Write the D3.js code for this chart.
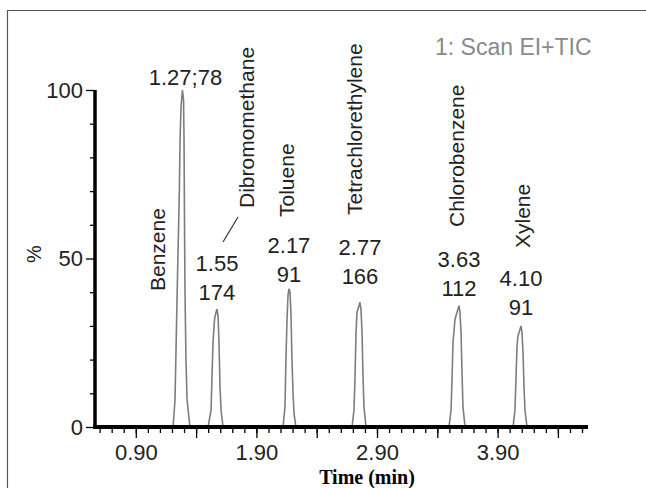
<!DOCTYPE html>
<html>
<head>
<meta charset="utf-8">
<script src="https://cdn.jsdelivr.net/npm/d3@7/dist/d3.min.js"></script>
<style>
  body { margin: 0; background: #fff; }
  svg text { font-family: "Liberation Sans", Arial, sans-serif; }
</style>
</head>
<body>
<div id="chart"></div>
<script>
// compounds, retention time labels and base ion labels
var compounds = ["Benzene", "Dibromomethane", "Toluene", "Tetrachlorethylene", "Chlorobenzene", "Xylene"];
var rtLabels = ["1.27;78", "1.55", "2.17", "2.77", "3.63", "4.10"];
var ionLabels = ["", "174", "91", "166", "112", "91"];

// TIC trace: [time (min), % of base peak]
var benzene = [[1.209,0],[1.225,8],[1.233,22],[1.246,45],[1.254,58],[1.261,70],[1.267,85],[1.275,95],[1.287,100],[1.296,97],[1.300,85],[1.304,60],[1.308,40],[1.316,20],[1.325,8],[1.349,0]];
var dibromomethane = [[1.499,0],[1.524,5],[1.532,15],[1.540,25],[1.553,32],[1.565,34],[1.573,35],[1.582,33],[1.590,25],[1.598,12],[1.607,5],[1.623,0]];
var toluene = [[2.121,0],[2.137,6],[2.145,20],[2.154,32],[2.162,39],[2.170,41],[2.179,40],[2.187,33],[2.195,20],[2.204,10],[2.212,4],[2.228,0]];
var tetrachlorethylene = [[2.693,0],[2.709,5],[2.718,15],[2.726,28],[2.734,34],[2.751,36],[2.759,37],[2.767,35],[2.776,28],[2.784,15],[2.792,6],[2.809,0]];
var chlorobenzene = [[3.497,0],[3.514,5],[3.522,14],[3.530,25],[3.547,32],[3.563,34],[3.580,36],[3.588,34],[3.597,28],[3.605,16],[3.613,6],[3.630,0]];
var xylene = [[4.028,0],[4.044,5],[4.053,15],[4.061,24],[4.069,27],[4.086,29],[4.094,30],[4.102,28],[4.111,22],[4.119,12],[4.127,5],[4.144,0]];
var peaks = [benzene, dibromomethane, toluene, tetrachlorethylene, chlorobenzene, xylene];

var xDomain = [0.5617, 4.6496];
var xLabelTicks = [0.90, 1.90, 2.90, 3.90];
var xMidTicks = [1.40, 2.40, 3.40, 4.40];
var yLabelTicks = [0, 50, 100];
var yMinorTicks = [10, 20, 30, 40, 60, 70, 80, 90];

var W = 646, H = 488;
var svg = d3.select("#chart").append("svg")
    .attr("width", W).attr("height", H);

var x = d3.scaleLinear().domain(xDomain).range([95, 588]);
var y = d3.scaleLinear().domain([0, 100]).range([427, 90]);

// frame
svg.append("path")
    .attr("d", "M7.5," + H + "V10.5H" + W)
    .attr("fill", "none").attr("stroke", "#555").attr("stroke-width", 1.2);

// trace
var trace = [[xDomain[0], 0]];
peaks.forEach(function(p) { trace = trace.concat(p); });
trace.push([xDomain[1], 0]);

var line = d3.line()
    .x(function(d) { return x(d[0]); })
    .y(function(d) { return y(d[1]); });

svg.append("path")
    .datum(trace)
    .attr("d", line)
    .attr("fill", "none")
    .attr("stroke", "#7d7d7d")
    .attr("stroke-width", 1.6)
    .attr("stroke-linejoin", "miter");

// x axis
var minorX = d3.range(0.6, 4.65, 0.1).map(function(v) { return +v.toFixed(2); });
svg.append("g").attr("transform", "translate(0,427)")
    .call(d3.axisBottom(x).tickValues(minorX).tickSize(6).tickSizeOuter(0).tickFormat(""));
svg.append("g").attr("transform", "translate(0,427)")
    .call(d3.axisBottom(x).tickValues(xMidTicks).tickSize(11).tickSizeOuter(0).tickFormat(""));
svg.append("g").attr("class", "xlab").attr("transform", "translate(0,427)")
    .call(d3.axisBottom(x).tickValues(xLabelTicks).tickSize(11).tickSizeOuter(0).tickPadding(6)
        .tickFormat(d3.format(".2f")));

// y axis
svg.append("g").attr("transform", "translate(95,0)")
    .call(d3.axisLeft(y).tickValues(yMinorTicks).tickSize(5).tickSizeOuter(0).tickFormat(""));
svg.append("g").attr("class", "ylab").attr("transform", "translate(95,0)")
    .call(d3.axisLeft(y).tickValues(yLabelTicks).tickSize(9).tickSizeOuter(0).tickPadding(3));

svg.selectAll(".domain").remove();
svg.selectAll(".tick line").attr("stroke", "#000").attr("stroke-width", 1.3);
svg.selectAll(".xlab text, .ylab text")
    .attr("fill", "#222").style("font-size", "22px");

// thick axis lines
svg.append("line").attr("x1", 95).attr("x2", 95).attr("y1", y(100)).attr("y2", y(0) + 2)
    .attr("stroke", "#000").attr("stroke-width", 3.5);
svg.append("line").attr("x1", 93).attr("x2", x(xDomain[1])).attr("y1", y(0)).attr("y2", y(0))
    .attr("stroke", "#000").attr("stroke-width", 4);

// axis titles
svg.append("text")
    .attr("transform", "translate(34,254) rotate(-90)")
    .attr("text-anchor", "middle").attr("dy", "0.35em")
    .style("font-size", "20px").attr("fill", "#222")
    .text("%");

svg.append("text")
    .attr("x", 367).attr("y", 484)
    .attr("text-anchor", "middle")
    .style("font-family", "'Liberation Serif', 'Times New Roman', serif")
    .style("font-weight", "bold").style("font-size", "20px")
    .text("Time (min)");

svg.append("text")
    .attr("x", 435).attr("y", 55)
    .style("font-size", "23px").attr("fill", "#8a8a8a")
    .text("1: Scan EI+TIC");

// peak annotations
var apex = peaks.map(function(p) {
  return p.reduce(function(a, b) { return b[1] > a[1] ? b : a; });
});
// layout: name offset from apex (px) and name bottom, label lift above apex
var nameDx = [-25, 30, -2, -5, -2, 2];
var nameBottom = [291, 208, 217, 215, 227, 248];
var labelLift = [5, 9, 7, 18, 10, 11];

compounds.forEach(function(name, i) {
  var ax = x(apex[i][0]), ay = y(apex[i][1]);
  svg.append("text")
      .attr("transform", "translate(" + (ax + nameDx[i]) + "," + nameBottom[i] + ") rotate(-90)")
      .attr("dy", "0.35em")
      .style("font-size", "21px").attr("fill", "#222")
      .text(name);

  var base = ay - labelLift[i];
  if (ionLabels[i]) {
    svg.append("text").attr("x", ax).attr("y", base)
        .attr("text-anchor", "middle").style("font-size", "22px").attr("fill", "#222")
        .text(ionLabels[i]);
    base -= 29;
  }
  svg.append("text").attr("x", ax + (i === 0 ? 3 : 0)).attr("y", base)
      .attr("text-anchor", "middle").style("font-size", "22px").attr("fill", "#222")
      .text(rtLabels[i]);
});

// leader from Dibromomethane to its peak label
svg.append("line")
    .attr("x1", 238).attr("y1", 217).attr("x2", 223).attr("y2", 242)
    .attr("stroke", "#333").attr("stroke-width", 1.2);
</script>
</body>
</html>
